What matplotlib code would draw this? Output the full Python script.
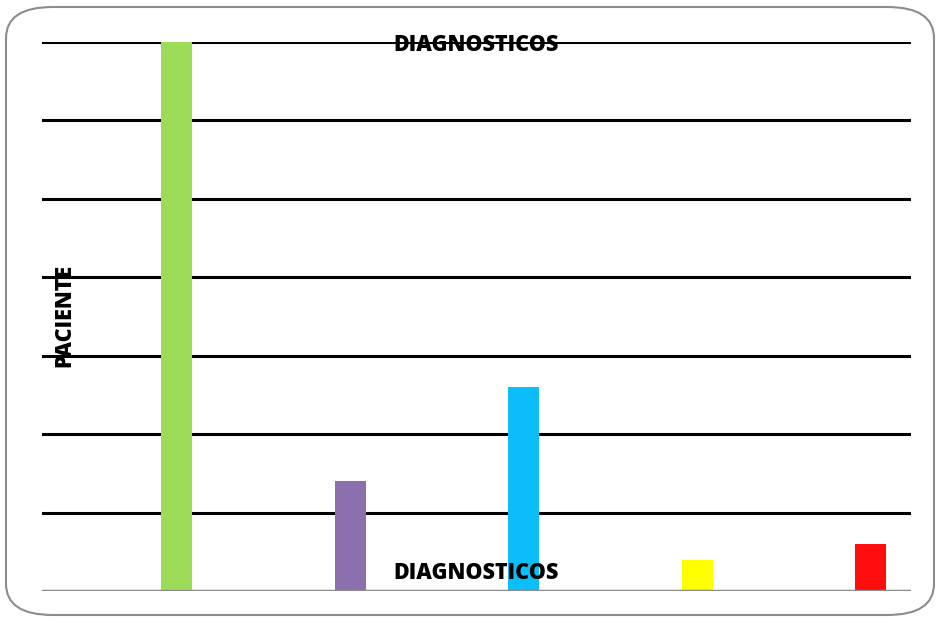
import matplotlib
matplotlib.use("Agg")
import matplotlib.pyplot as plt
from matplotlib.patches import FancyBboxPatch

categories = ["A", "B", "C", "D", "E"]
values = [35, 7, 13, 2, 3]
colors = ["#9BDB58", "#8B6FAF", "#0BBDF8", "#FFFF00", "#FF0D0D"]
title = "DIAGNOSTICOS"
xlabel = "DIAGNOSTICOS"
ylabel = "PACIENTE"

W, H = 938, 623
fig = plt.figure(figsize=(W / 100, H / 100), dpi=100)

border = FancyBboxPatch((6 / W, 8 / H), 928 / W, 608 / H,
                        boxstyle="round,pad=0,rounding_size=0.05",
                        transform=fig.transFigure, fill=False,
                        edgecolor="#8C8C8C", linewidth=1.5)
fig.patches.append(border)

ax = fig.add_axes([42 / W, 32 / H, 869 / W, 549 / H])
x = list(range(len(categories)))
ax.bar(x, values, width=0.179, color=colors, zorder=3)
ax.set_xlim(-0.778, 4.234)
ax.set_ylim(0, 35)
for yv in range(5, 36, 5):
    ax.axhline(yv, color="black", linewidth=2.2, zorder=1)
ax.axhline(0, color="#8C8C8C", linewidth=2.5, zorder=4)
for s in ax.spines.values():
    s.set_visible(False)
ax.set_xticks([])
ax.set_yticks([])
ax.patch.set_alpha(0)

fnt = dict(family="Open Sans", fontweight="heavy", fontsize=15.5)
fig.text(476 / W, 1 - 45 / H, title, ha="center", va="center", zorder=10, **fnt)
fig.text(476 / W, 1 - 573 / H, xlabel, ha="center", va="center", zorder=10, **fnt)
fig.text(64 / W, 1 - 315 / H, ylabel, ha="center", va="center", rotation=90, zorder=10, **fnt)

fig.savefig("out.png", dpi=100)
